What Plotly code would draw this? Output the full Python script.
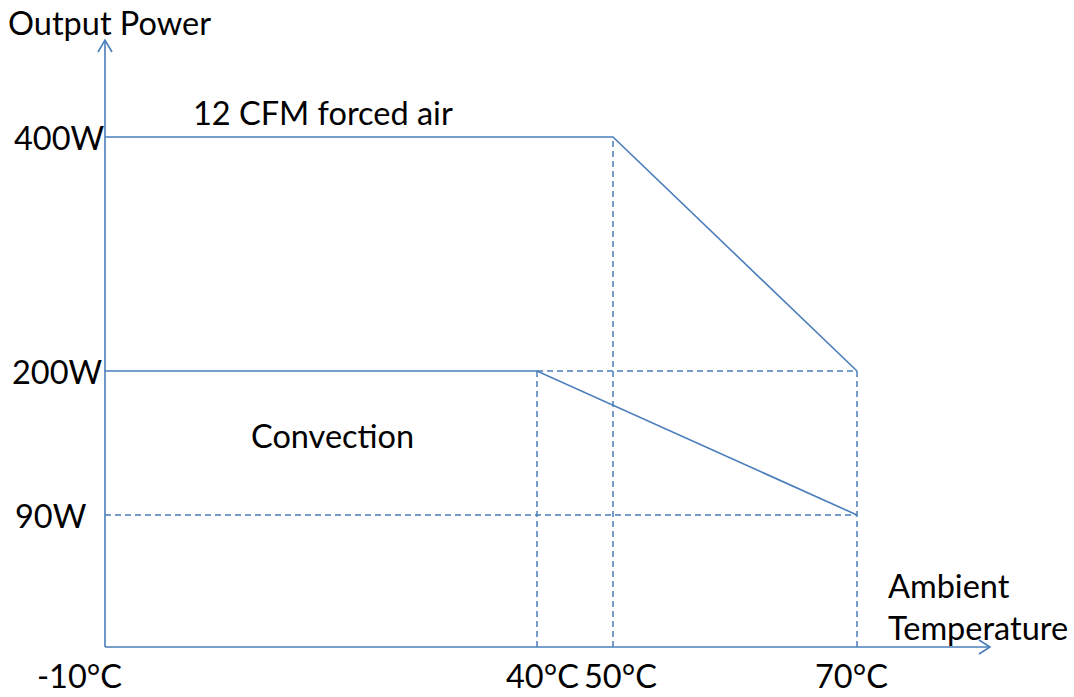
import numpy as np
import plotly.graph_objects as go

# ---- data ----
temp_ticks = [-10, 40, 50, 70]
temp_labels = ["-10°C", "40°C", "50°C", "70°C"]
power_ticks = [0, 90, 200, 400]
power_labels = ["", "90W", "200W", "400W"]

forced_temp = [-10, 50, 70]
forced_power = [400, 400, 200]
conv_temp = [-10, 40, 70]
conv_power = [200, 200, 90]

dash_v_temp = [40, 50, 70]
dash_v_top = [200, 400, 200]
dash_h_power = [200, 90]
dash_h_from = [40, -10]
dash_h_to = [70, 70]

# ---- schematic (non-linear) scale: value -> drawing position ----
T_POS = [105, 537, 613, 857]
P_POS = [647, 515, 371, 137]


def sx(t):
    return np.interp(t, temp_ticks, T_POS)


def sy(p):
    return np.interp(p, power_ticks, P_POS)


LINE = "#4a7ebb"
FONT = "Lato"
FS = 32.5

fig = go.Figure()

# dashed guide lines
for t, top in zip(dash_v_temp, dash_v_top):
    fig.add_trace(go.Scatter(x=sx([t, t]), y=sy([0, top]), mode="lines",
                             line=dict(color=LINE, width=1.5, dash="6px,4px"),
                             hoverinfo="skip", showlegend=False))
for p, a, b in zip(dash_h_power, dash_h_from, dash_h_to):
    fig.add_trace(go.Scatter(x=sx([a, b]), y=sy([p, p]), mode="lines",
                             line=dict(color=LINE, width=1.5, dash="6px,4px"),
                             hoverinfo="skip", showlegend=False))

# derating curves
fig.add_trace(go.Scatter(x=sx(forced_temp), y=sy(forced_power), mode="lines",
                         line=dict(color=LINE, width=1.6), name="12 CFM forced air",
                         showlegend=False))
fig.add_trace(go.Scatter(x=sx(conv_temp), y=sy(conv_power), mode="lines",
                         line=dict(color=LINE, width=1.6), name="Convection",
                         showlegend=False))

# axes with open arrowheads
ox, oy = sx(-10), sy(0)
shapes = [
    dict(type="line", x0=ox, y0=oy, x1=ox, y1=40, line=dict(color=LINE, width=1.6)),
    dict(type="line", x0=ox, y0=oy, x1=990, y1=oy, line=dict(color=LINE, width=1.6)),
    dict(type="path", path=f"M {ox-7},52 L {ox},40 L {ox+7},52",
         line=dict(color=LINE, width=1.6)),
    dict(type="path", path=f"M 979,{oy-7} L 990,{oy} L 979,{oy+7}",
         line=dict(color=LINE, width=1.6)),
]
for s in shapes:
    s.update(xref="x", yref="y", layer="above")

ann = []
# y tick labels
y_label_x = [None, 51, 57, 59]
for p, lab, xc in zip(power_ticks, power_labels, y_label_x):
    if lab:
        ann.append(dict(x=xc, y=sy(p), text=lab, xanchor="center", yanchor="middle"))
# x tick labels
x_label_x = [79, 542, 620, 851]
for lab, xc in zip(temp_labels, x_label_x):
    ann.append(dict(x=xc, y=697, text=lab, xanchor="center", yanchor="bottom"))

ann += [
    dict(x=109, y=22, text="Output Power", xanchor="center", yanchor="middle"),
    dict(x=323, y=112, text="12 CFM forced air", xanchor="center", yanchor="middle"),
    dict(x=332, y=435, text="Convection", xanchor="center", yanchor="middle"),
    dict(x=886, y=606, text="Ambient<br>Temperature", xanchor="left",
         yanchor="middle", align="left"),
]
for a in ann:
    a.update(xref="x", yref="y", showarrow=False,
             font=dict(family=FONT, size=FS, color="#000000"))

fig.update_layout(
    width=1074, height=697,
    margin=dict(l=0, r=0, t=0, b=0),
    paper_bgcolor="white", plot_bgcolor="white",
    xaxis=dict(range=[0, 1074], visible=False, fixedrange=True),
    yaxis=dict(range=[697, 0], visible=False, fixedrange=True),
    shapes=shapes, annotations=ann,
)

fig.write_html(
    "out.html",
    config={"displayModeBar": False},
    post_script="document.body.style.margin='0';document.body.style.overflow='hidden';",
)
